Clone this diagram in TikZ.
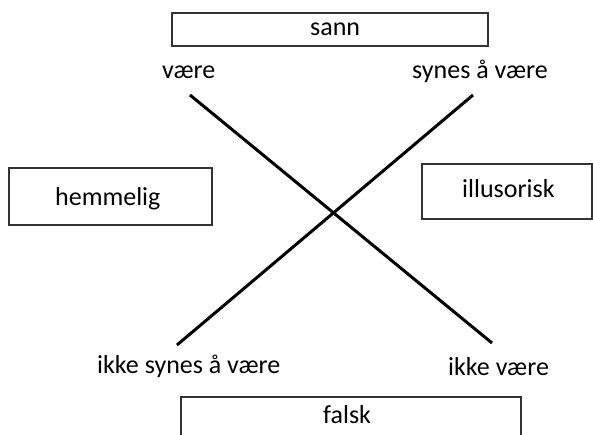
\documentclass[tikz,border=0pt]{standalone}
\usepackage{fontspec}
\setmainfont{Carlito}
\tikzset{
  box/.style={draw=black!80, line width=1.3pt},
  lbl/.style={font=\fontsize{26}{30}\selectfont, inner sep=0pt},
  cross/.style={line width=3pt, black}
}
\begin{document}
\begin{tikzpicture}[x=1pt,y=-1pt]
\useasboundingbox (0,0) rectangle (593,434);
% boxes
\draw[box] (172,13) rectangle (488,46);
\node[lbl, anchor=base west] (sann) at (310,35) {sann};
\draw[box] (9,168) rectangle (212,225);
\node[lbl, anchor=base west] (hem) at (55,205) {hemmelig};
\draw[box] (422,164) rectangle (592,219);
\node[lbl, anchor=base west] (ill) at (462,197) {illusorisk};
\draw[box] (181,397) rectangle (521,445);
\node[lbl, anchor=base west] (fal) at (323,423) {falsk};
% labels
\node[lbl, anchor=base west] (v) at (162,78) {være};
\node[lbl, anchor=base west] (sv) at (412,78) {synes å være};
\node[lbl, anchor=base west] (isv) at (97,373) {ikke synes å være};
\node[lbl, anchor=base west] (iv) at (448,375) {ikke være};
% cross lines
\coordinate (a1) at (190,95);
\coordinate (a2) at (492,343);
\coordinate (b1) at (473,95);
\coordinate (b2) at (177,345);
\draw[cross] (a1) -- (a2);
\draw[cross] (b1) -- (b2);
\end{tikzpicture}
\end{document}
